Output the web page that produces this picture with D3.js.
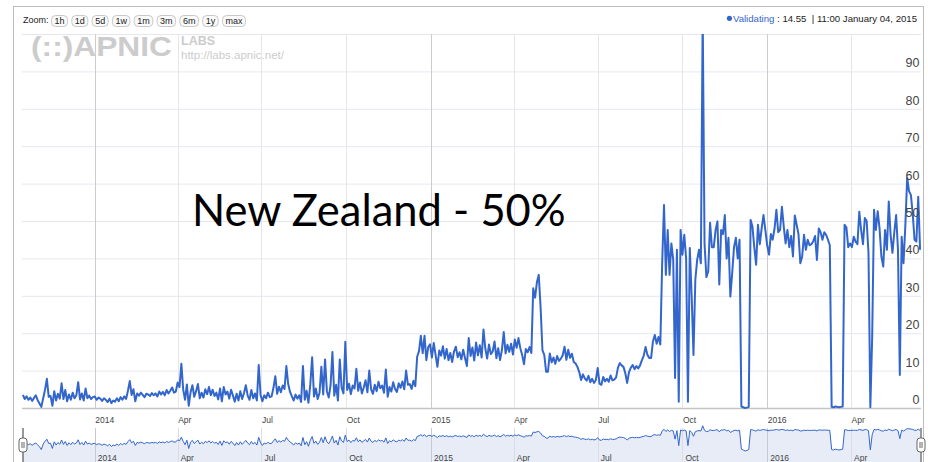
<!DOCTYPE html>
<meta charset="utf-8">
<head>
    <style>
     body { margin: 0; background: #fff; }
     svg { display: block; font-family: "Liberation Sans", Arial, sans-serif; }
    </style>
</head>
<body>
    <div id="chart"></div>
</body>
<script src="https://d3js.org/d3.v7.min.js"></script>
<script>

 // Validating share (%), one reading every 2 days from 15 Oct 2013
 var startDate = new Date(2013, 9, 15);
 var stepDays = 2;
 var validating = [
     3.5, 2.4, 3.1, 2.2, 2.8, 1.9, 2.7, 3.4, 2.1, 1.2, 0.3, 2.6, 4.9, 7.8, 3.0,
     3.2, 0.6, 4.5, 2.0, 3.8, 2.5, 6.6, 2.4, 4.8, 1.8, 3.6, 2.2, 4.1, 2.6, 3.4,
     6.9, 2.3, 3.9, 2.0, 5.2, 2.6, 3.3, 2.4, 2.9, 3.1, 2.2, 2.8, 2.5, 1.9, 2.6,
     2.2, 1.6, 2.5, 1.3, 2.0, 1.7, 2.6, 1.8, 2.9, 2.2, 3.1, 2.4, 4.6, 7.2, 3.5,
     5.0, 1.8, 3.9, 3.3, 4.1, 3.5, 2.9, 3.8, 3.6, 3.2, 4.0, 3.4, 3.9, 3.1, 4.4,
     3.6, 4.3, 3.4, 4.8, 3.9, 4.6, 5.5, 4.1, 4.4, 6.8, 5.6, 11.8, 4.9, 2.2, 6.3,
     0.6, 4.2, 6.1, 3.0, 4.5, 6.4, 2.6, 4.1, 2.8, 5.0, 3.7, 5.6, 3.4, 4.9, 3.2,
     4.1, 2.3, 5.2, 1.8, 5.6, 3.6, 4.4, 2.5, 4.9, 3.3, 1.7, 3.8, 2.0, 4.5, 2.4,
     4.0, 6.1, 3.3, 2.2, 4.8, 2.6, 3.9, 2.0, 11.5, 3.5, 1.8, 3.4, 2.6, 4.1, 2.9,
     3.1, 5.4, 8.5, 3.8, 5.7, 4.2, 6.0, 5.1, 11.2, 6.4, 4.3, 3.1, 2.0, 3.6, 2.5,
     3.4, 1.6, 11.2, 2.2, 4.6, 1.4, 6.3, 13.6, 3.1, 5.2, 2.4, 4.0, 11.0, 3.6, 13.0,
     4.5, 2.8, 6.1, 15.0, 3.3, 6.2, 2.0, 13.0, 5.4, 3.9, 17.7, 4.8, 6.5, 3.7, 6.0,
     5.2, 10.5, 4.6, 6.8, 3.9, 5.5, 7.4, 4.2, 10.0, 5.0, 3.8, 6.2, 4.5, 7.0, 5.3,
     6.0, 4.1, 10.3, 3.0, 5.6, 4.4, 6.9, 5.1, 4.3, 6.6, 5.4, 7.1, 5.0, 10.0, 6.2,
     6.4, 5.1, 7.3, 5.8, 13.7, 15.2, 19.3, 14.7, 19.3, 12.8, 16.3, 17.0, 13.5, 17.4, 14.2,
     11.0, 15.4, 14.0, 16.5, 13.2, 15.8, 12.8, 14.7, 12.3, 15.1, 16.4, 13.6, 14.9, 13.0, 15.6,
     13.3, 11.2, 18.7, 13.9, 16.2, 12.7, 17.5, 14.1, 16.8, 13.5, 21.0, 15.9, 13.2, 17.0, 14.4,
     15.1, 17.8, 13.3, 16.0, 12.8, 15.5, 20.3, 14.6, 16.9, 15.0, 17.2, 14.3, 18.3, 16.1, 18.7,
     16.0, 14.2, 11.7, 15.8, 14.9, 16.3, 14.7, 32.0, 29.5, 33.6, 35.6, 27.0, 15.5, 14.2, 9.7,
     9.7, 14.6, 12.2, 13.5, 11.8, 13.9, 12.6, 13.2, 14.1, 16.4, 12.9, 15.6, 13.4, 14.5, 12.3,
     11.9, 11.0, 9.6, 7.5, 9.0, 7.9, 7.3, 8.6, 6.9, 7.8, 6.7, 7.5, 10.7, 6.5, 6.2,
     8.3, 7.1, 7.8, 7.0, 8.7, 7.4, 7.6, 8.2, 10.8, 12.0, 11.4, 11.0, 9.3, 6.7, 9.6,
     10.8, 11.5, 10.4, 11.2, 10.6, 11.4, 12.8, 14.0, 16.3, 14.2, 13.4, 13.4, 17.8, 19.5, 17.2,
     19.0, 17.0, 38.7, 54.3, 35.6, 47.6, 35.6, 44.0, 39.6, 8.0, 42.3, 1.7, 47.6, 41.0, 46.3,
     40.0, 1.7, 42.8, 30.0, 14.2, 34.3, 39.6, 42.3, 38.7, 105, 44.0, 35.0, 36.5, 49.5, 43.0,
     43.0, 47.6, 49.9, 33.0, 47.6, 46.5, 51.6, 40.0, 45.5, 29.8, 36.0, 43.0, 45.5, 40.0, 45.0,
     0.4, 0.2, 0.0, 0.1, 0.3, 50.3, 48.5, 43.0, 38.3, 49.0, 43.8, 48.0, 51.6, 47.6, 43.5,
     41.0, 46.5, 45.0, 48.0, 53.0, 47.0, 47.6, 53.8, 48.5, 44.0, 47.6, 43.0, 46.0, 40.5, 51.5,
     49.0, 46.5, 38.7, 40.5, 46.3, 42.3, 45.0, 43.5, 43.8, 44.6, 46.0, 39.6, 48.0, 47.0, 45.0,
     47.0, 46.3, 45.0, 43.5, 0.3, 0.2, 0.4, 0.3, 0.2, 0.3, 0.4, 49.0, 48.3, 43.0, 44.0,
     43.0, 45.8, 44.5, 43.8, 52.5, 47.6, 43.8, 50.8, 50.0, 41.5, 0.2, 19.0, 53.0, 47.6, 52.6,
     48.0, 40.5, 37.8, 47.6, 42.3, 55.2, 46.3, 41.5, 47.0, 51.6, 42.3, 8.8, 45.8, 38.7, 48.8,
     61.5, 58.0, 57.0, 52.0, 45.0, 44.5, 56.5, 42.3
 ];

 var yTicks = [0, 10, 20, 30, 40, 50, 60, 70, 80, 90, 100];
 var zoomButtons = ["1h", "1d", "5d", "1w", "1m", "3m", "6m", "1y", "max"];
 var monthNames = ["Jan", "Feb", "Mar", "Apr", "May", "Jun", "Jul", "Aug", "Sep", "Oct", "Nov", "Dec"];
 var seriesName = "Validating";
 var legendValue = "14.55";
 var legendTime = "11:00 January 04, 2015";
 var overlayTitle = "New Zealand - 50%";

 var width = 928, height = 462;
 var blue = "#3366cc";

 var data = validating.map(function(v, i) {
     return { date: d3.timeDay.offset(startDate, i * stepDays), v: v };
 });

 var svg = d3.select("#chart").append("svg")
             .attr("width", width)
             .attr("height", height);

 var plot = { left: 22, right: 921, top: 34, bottom: 408 };

 var x = d3.scaleTime()
           .domain([new Date(2013, 9, 14), new Date(2016, 5, 16)])
           .range([plot.left, plot.right]);
 var y = d3.scaleLinear().domain([0, 100]).range([plot.bottom, plot.top]);
 var ny = d3.scaleSymlog().domain([0, 100]).range([451, 426]);

 var xTicks = x.ticks(d3.timeMonth.every(3));
 function tickLabel(d) {
     return d.getMonth() === 0 ? d.getFullYear() : monthNames[d.getMonth()];
 }

 // outer frame
 svg.append("rect")
    .attr("x", 13.5).attr("y", 6.5)
    .attr("width", 910).attr("height", 470)
    .attr("fill", "none").attr("stroke", "#bdbdbd");

 // watermark
 var logo = svg.append("g");
 logo.append("text").attr("x", 31).attr("y", 56)
     .attr("font-size", 28).attr("font-weight", "bold").attr("fill", "#cccccc")
     .attr("textLength", 141).attr("lengthAdjust", "spacingAndGlyphs")
     .text("(::)APNIC");
 logo.append("text").attr("x", 181).attr("y", 45)
     .attr("font-size", 12.5).attr("font-weight", "bold").attr("fill", "#cccccc")
     .text("LABS");
 logo.append("text").attr("x", 181).attr("y", 58.5)
     .attr("font-size", 11.5).attr("fill", "#cccccc")
     .text("http://labs.apnic.net/");

 // horizontal grid
 svg.append("g").selectAll("line")
    .data(yTicks)
    .join("line")
    .attr("x1", plot.left).attr("x2", plot.right)
    .attr("y1", d => y(d) + 0.5).attr("y2", d => y(d) + 0.5)
    .attr("stroke", d => d === 0 ? "#c4c4c4" : "#e6e6f2")
    .attr("stroke-width", d => d === 0 ? 1.5 : 1);

 // vertical grid
 svg.append("g").selectAll("line")
    .data(xTicks)
    .join("line")
    .attr("x1", d => Math.round(x(d)) + 0.5).attr("x2", d => Math.round(x(d)) + 0.5)
    .attr("y1", plot.top).attr("y2", plot.bottom)
    .attr("stroke", d => d.getMonth() === 0 ? "#cccccc" : "#e6e6ea");

 // series
 svg.append("clipPath").attr("id", "clip")
    .append("rect")
    .attr("x", plot.left).attr("y", plot.top)
    .attr("width", plot.right - plot.left).attr("height", plot.bottom - plot.top + 2);

 var line = d3.line().x(d => x(d.date)).y(d => y(d.v));
 svg.append("path")
    .datum(data)
    .attr("clip-path", "url(#clip)")
    .attr("fill", "none")
    .attr("stroke", blue)
    .attr("stroke-width", 2)
    .attr("stroke-linejoin", "round")
    .attr("d", line);

 // y labels, inside the plot on the right
 svg.append("g").selectAll("text")
    .data(yTicks.filter(d => d < 100))
    .join("text")
    .attr("x", 919.5)
    .attr("y", d => y(d) - 4)
    .attr("text-anchor", "end")
    .attr("font-size", 12.5)
    .attr("fill", "#444")
    .text(d => d);

 // x labels
 svg.append("g").selectAll("text")
    .data(xTicks)
    .join("text")
    .attr("x", d => x(d) + 0.5)
    .attr("y", 422.5)
    .attr("font-size", 8.5)
    .attr("fill", "#444")
    .text(tickLabel);

 // big overlay title
 svg.append("text")
    .attr("x", 192).attr("y", 226)
    .attr("font-family", "Lato, 'Open Sans', sans-serif")
    .attr("font-size", 43.5)
    .attr("fill", "#000")
    .text(overlayTitle);

 // zoom bar
 var bar = svg.append("g").attr("font-size", 9).attr("fill", "#222");
 bar.append("text").attr("x", 23).attr("y", 22.5).text("Zoom:");
 var bx = 51.5;
 zoomButtons.forEach(function(b) {
     var g = bar.append("g");
     var t = g.append("text").attr("y", 23.5).attr("text-anchor", "middle").text(b);
     var w = t.node().getComputedTextLength() + 6;
     g.insert("rect", "text")
      .attr("x", bx).attr("y", 15.5)
      .attr("width", w).attr("height", 11)
      .attr("rx", 4)
      .attr("fill", "#fafafa").attr("stroke", "#c8c8c8");
     t.attr("x", bx + w / 2);
     bx += w + 4.3;
 });

 // legend
 var legend = svg.append("g").attr("font-size", 9.6);
 var lt = legend.append("text").attr("x", 917).attr("y", 21.5).attr("text-anchor", "end");
 lt.append("tspan").attr("fill", blue).text(seriesName);
 lt.append("tspan").attr("fill", "#222").text(" : " + legendValue + "  \u00a0|\u00a0" + legendTime);
 var lbox = lt.node().getBBox();
 legend.append("circle").attr("cx", lbox.x - 3.5).attr("cy", 18.3).attr("r", 2.6).attr("fill", blue);

 // navigator
 var nav = svg.append("g");
 var area = d3.area().x(d => x(d.date)).y0(470).y1(d => ny(d.v));
 nav.append("path").datum(data)
    .attr("fill", "#e8ecf7")
    .attr("d", area);
 nav.append("g").selectAll("line")
    .data(xTicks)
    .join("line")
    .attr("x1", d => Math.round(x(d)) + 0.5).attr("x2", d => Math.round(x(d)) + 0.5)
    .attr("y1", 428).attr("y2", 462)
    .attr("stroke", d => d.getMonth() === 0 ? "#c8c8d0" : "#dcdce4");
 nav.append("path").datum(data)
    .attr("fill", "none")
    .attr("stroke", blue)
    .attr("stroke-width", 1)
    .attr("d", d3.line().x(d => x(d.date)).y(d => ny(d.v)));
 nav.append("g").selectAll("text")
    .data(xTicks)
    .join("text")
    .attr("x", d => x(d) + 3)
    .attr("y", 461)
    .attr("font-size", 8.5)
    .attr("fill", "#444")
    .text(tickLabel);

 // navigator handles
 [plot.left + 1, plot.right].forEach(function(hx) {
     var h = nav.append("g");
     h.append("line").attr("x1", hx).attr("x2", hx).attr("y1", 428).attr("y2", 462)
      .attr("stroke", "#555").attr("stroke-width", 1.2);
     h.append("rect").attr("x", hx - 4).attr("y", 438).attr("width", 8).attr("height", 14)
      .attr("rx", 3).attr("fill", "#fff").attr("stroke", "#666");
     h.append("line").attr("x1", hx - 1).attr("x2", hx - 1).attr("y1", 442).attr("y2", 448).attr("stroke", "#666");
     h.append("line").attr("x1", hx + 1).attr("x2", hx + 1).attr("y1", 442).attr("y2", 448).attr("stroke", "#666");
 });

</script>
